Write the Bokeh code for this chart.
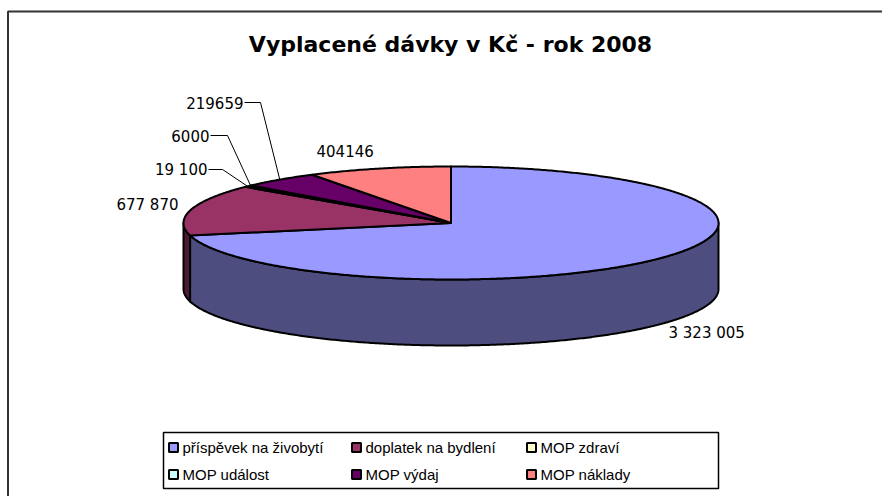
import numpy as np
from bokeh.plotting import figure
from bokeh.models import Range1d
from bokeh.core.properties import value
from bokeh.embed import file_html
from bokeh.resources import INLINE

# ---- data ----
categories = ["příspěvek na živobytí", "doplatek na bydlení", "MOP  zdraví",
              "MOP  událost", "MOP výdaj", "MOP náklady"]
values = [3323005, 677870, 19100, 6000, 219659, 404146]
value_labels = ["3 323 005", "677 870", "19 100", "6000", "219659", "404146"]
top_colors = ["#9999FF", "#993366", "#FFFFCC", "#CCFFFF", "#660066", "#FF8080"]
side_colors = ["#4D4D80", "#4D1A33", "#808066", "#668080", "#330033", "#804040"]
title_text = "Vyplacené dávky v Kč - rok 2008"

# ---- layout ----
W, H = 882, 496
FONT = "Liberation Sans"
FONT_WIDE = "DejaVu Sans"
p = figure(width=W, height=H, x_range=Range1d(0, W), y_range=Range1d(H, 0),
           output_backend="svg", toolbar_location=None, min_border=0,
           x_axis_type=None, y_axis_type=None)
p.grid.visible = False
p.outline_line_color = None
p.background_fill_color = "white"

cx, cy, rx, ry, depth = 450.5, 222.5, 267.5, 56.5, 66.0
total = float(sum(values))
cum = np.concatenate([[0.0], np.cumsum(values)]) / total * 360.0


def arc(a, b, dy=0.0, n=None):
    if n is None:
        n = max(3, int(abs(b - a) * 2) + 2)
    t = np.radians(np.linspace(a, b, n))
    return cx + rx * np.sin(t), cy - ry * np.cos(t) + dy


# side faces (front half: 90..270 deg clockwise from top)
for i in range(len(values)):
    a, b = cum[i], cum[i + 1]
    lo, hi = max(a, 90.0), min(b, 270.0)
    if hi > lo:
        x1, y1 = arc(lo, hi)
        x2, y2 = arc(hi, lo, depth)
        p.patch(np.concatenate([x1, x2]), np.concatenate([y1, y2]),
                fill_color=side_colors[i], line_color="black", line_width=2,
                line_join="round")

# top faces
for i in range(len(values)):
    a, b = cum[i], cum[i + 1]
    xa, ya = arc(a, b)
    p.patch(np.concatenate([[cx], xa]), np.concatenate([[cy], ya]),
            fill_color=top_colors[i], line_color="black", line_width=2,
            line_join="round")

# title
p.text(x=[450], y=[44], text=[title_text], text_font=value(FONT_WIDE),
       text_font_size="22px", text_font_style="bold", text_align="center",
       text_baseline="middle", text_color="black")

# data labels (positions are layout; leader endpoints from slice mid-angles)
lab_x = [668, 178, 207, 209, 243, 316]
lab_y = [332, 204, 169, 135, 102, 150]
lab_align = ["left", "right", "right", "right", "right", "left"]
for i in range(len(values)):
    p.text(x=[lab_x[i]], y=[lab_y[i]], text=[value_labels[i]], text_font=value(FONT_WIDE),
           text_font_size="15px", text_align=lab_align[i], text_baseline="middle",
           text_color="black")

leader_idx = [2, 3, 4]
elbow_x = {2: 222, 3: 227, 4: 260}
for i in leader_idx:
    mid = (cum[i] + cum[i + 1]) / 2.0
    ex, ey = arc(mid, mid, n=1)
    p.line([lab_x[i] + 1, elbow_x[i], ex[0]], [lab_y[i], lab_y[i], ey[0]],
           line_color="black", line_width=1)

# legend
p.quad(left=[163], right=[718], top=[432], bottom=[488], fill_color="white",
       line_color="black", line_width=1.5)
leg_col_x = [173, 356, 531]
leg_row_y = [447, 474]
for i, name in enumerate(categories):
    lx = leg_col_x[i % 3]
    ly = leg_row_y[i // 3]
    p.scatter([lx], [ly], marker="square", size=9, fill_color=top_colors[i],
              line_color="black", line_width=2)
    p.text(x=[lx + 9], y=[ly], text=[name], text_font=value(FONT),
           text_font_size="15px", text_align="left", text_baseline="middle",
           text_color="black")

# chart area frame (left and top edges visible)
p.line([7.5, 7.5, 882], [496, 11, 11], line_color="#333333", line_width=2)

open("out.html", "w").write(file_html(p, INLINE))
